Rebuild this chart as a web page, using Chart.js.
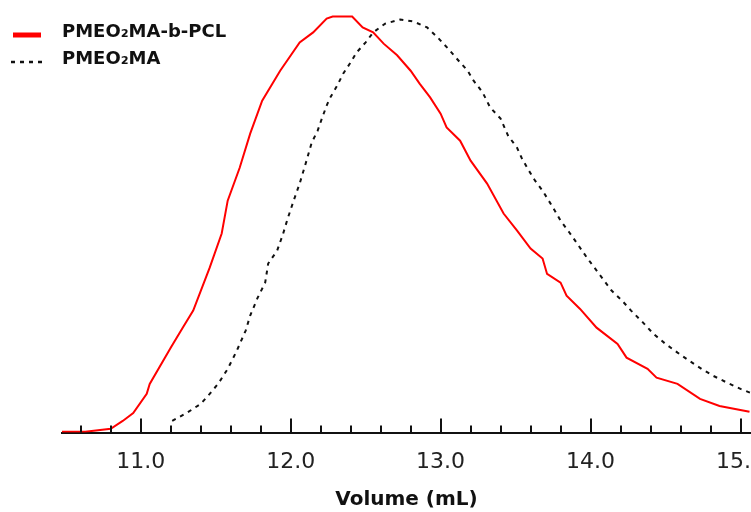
<!DOCTYPE html>
<html>
<head>
<meta charset="utf-8">
<script src="https://cdn.jsdelivr.net/npm/chart.js@4.4.1/dist/chart.umd.min.js"></script>
<style>
  body { margin: 0; background: #fff; }
  canvas { display: block; }
</style>
</head>
<body>
<canvas id="graph" width="751" height="512"></canvas>
<script>
// elution volume (mL) / normalised detector signal
const blockVol = [10.475, 10.63, 10.80, 10.88, 10.95, 11.04, 11.06, 11.20, 11.28, 11.35, 11.46, 11.54, 11.58, 11.66, 11.73, 11.81, 11.93, 12.06, 12.15, 12.24, 12.28, 12.41, 12.48, 12.55, 12.62, 12.71, 12.80, 12.86, 12.93, 13.00, 13.04, 13.13, 13.20, 13.31, 13.42, 13.51, 13.60, 13.68, 13.71, 13.80, 13.84, 13.93, 14.04, 14.18, 14.24, 14.38, 14.44, 14.58, 14.73, 14.86, 15.06];
const blockSignal = [0.002, 0.002, 0.009, 0.028, 0.047, 0.093, 0.117, 0.204, 0.252, 0.293, 0.396, 0.478, 0.557, 0.636, 0.718, 0.797, 0.869, 0.937, 0.961, 0.994, 0.999, 0.999, 0.973, 0.961, 0.934, 0.906, 0.869, 0.838, 0.805, 0.766, 0.733, 0.701, 0.653, 0.598, 0.526, 0.485, 0.442, 0.418, 0.381, 0.360, 0.329, 0.297, 0.252, 0.213, 0.180, 0.153, 0.132, 0.117, 0.081, 0.064, 0.050];

const homoVol = [11.21, 11.31, 11.40, 11.46, 11.52, 11.58, 11.64, 11.70, 11.73, 11.78, 11.83, 11.85, 11.91, 11.95, 11.98, 12.02, 12.06, 12.10, 12.14, 12.18, 12.21, 12.24, 12.26, 12.31, 12.35, 12.40, 12.44, 12.50, 12.55, 12.63, 12.73, 12.82, 12.91, 12.98, 13.05, 13.12, 13.18, 13.22, 13.28, 13.33, 13.40, 13.45, 13.51, 13.54, 13.58, 13.63, 13.68, 13.75, 13.80, 13.86, 13.92, 13.98, 14.08, 14.14, 14.21, 14.27, 14.35, 14.42, 14.50, 14.58, 14.66, 14.74, 14.82, 14.91, 15.00, 15.07];
const homoSignal = [0.028, 0.048, 0.069, 0.093, 0.119, 0.153, 0.196, 0.245, 0.281, 0.324, 0.360, 0.406, 0.437, 0.478, 0.514, 0.557, 0.598, 0.646, 0.696, 0.725, 0.756, 0.785, 0.802, 0.833, 0.862, 0.889, 0.913, 0.937, 0.961, 0.982, 0.992, 0.987, 0.973, 0.949, 0.922, 0.893, 0.869, 0.845, 0.817, 0.781, 0.754, 0.713, 0.684, 0.660, 0.634, 0.605, 0.581, 0.540, 0.509, 0.480, 0.449, 0.418, 0.370, 0.341, 0.317, 0.293, 0.264, 0.237, 0.213, 0.192, 0.172, 0.153, 0.136, 0.120, 0.105, 0.095];

const seriesNames = ['PMEO\u2082MA-b-PCL', 'PMEO\u2082MA'];
const volMin = 10.475;
const volMax = 15.07;

const toPoints = (xs, ys) => xs.map((x, i) => ({ x: x, y: ys[i] }));

// ticks drawn upward from the axis, long ones on whole mL
const tickMarks = {
    id: 'tickMarks',
    afterDraw(chart) {
        const ctx = chart.ctx;
        const xs = chart.scales.x;
        const yAxis = chart.chartArea.bottom;
        ctx.save();
        ctx.strokeStyle = '#111';
        ctx.lineWidth = 2;
        xs.ticks.forEach(t => {
            const v = t.value;
            if (Math.abs(v * 5 - Math.round(v * 5)) > 1e-6) return;
            const major = Math.abs(v - Math.round(v)) < 1e-6;
            const px = Math.round(xs.getPixelForValue(v));
            ctx.beginPath();
            ctx.moveTo(px, yAxis);
            ctx.lineTo(px, yAxis - (major ? 14 : 7));
            ctx.stroke();
        });
        ctx.restore();
    }
};

// legend sits at the top left corner, outside the plot frame
const cornerLegend = {
    id: 'cornerLegend',
    afterDraw(chart) {
        const ctx = chart.ctx;
        ctx.save();
        ctx.font = 'bold 18px "DejaVu Sans"';
        ctx.textBaseline = 'middle';
        ctx.fillStyle = '#111';
        const rows = [
            { y: 35, x0: 13, x1: 41, w: 5 },
            { y: 62, x0: 11, x1: 43, w: 2.5 }
        ];
        chart.data.datasets.forEach((ds, i) => {
            const r = rows[i];
            ctx.strokeStyle = ds.borderColor;
            ctx.lineWidth = r.w;
            ctx.setLineDash(ds.borderDash || []);
            ctx.beginPath();
            ctx.moveTo(r.x0, r.y);
            ctx.lineTo(r.x1, r.y);
            ctx.stroke();
            ctx.setLineDash([]);
            ctx.fillText(ds.label, 62, r.y - 3);
        });
        ctx.restore();
    }
};

new Chart(document.getElementById('graph'), {
    type: 'line',
    data: {
        datasets: [
            {
                label: seriesNames[0],
                data: toPoints(blockVol, blockSignal),
                borderColor: '#ff0000',
                borderWidth: 2,
                pointRadius: 0,
                tension: 0
            },
            {
                label: seriesNames[1],
                data: toPoints(homoVol, homoSignal),
                borderColor: '#111111',
                borderWidth: 2,
                borderDash: [4, 5],
                pointRadius: 0,
                tension: 0
            }
        ]
    },
    options: {
        responsive: false,
        animation: false,
        layout: { padding: { left: 62, right: 0, top: 12, bottom: 0 } },
        plugins: {
            legend: { display: false },
            tooltip: { enabled: false }
        },
        scales: {
            x: {
                type: 'linear',
                min: volMin,
                max: volMax,
                grid: { display: false, drawTicks: false, tickLength: 0 },
                border: { display: true, color: '#111', width: 2 },
                ticks: {
                    stepSize: 0.2,
                    includeBounds: false,
                    autoSkip: false,
                    maxRotation: 0,
                    padding: 16,
                    color: '#222',
                    font: { family: '"DejaVu Sans"', size: 22 },
                    callback: (v) => Math.abs(v - Math.round(v)) < 1e-6 ? Number(v).toFixed(1) : ''
                },
                title: {
                    display: true,
                    text: 'Volume (mL)',
                    color: '#111',
                    font: { family: '"DejaVu Sans"', size: 20, weight: 'bold' },
                    padding: { top: -3, bottom: 0 }
                },
                afterFit: (scale) => {
                    // the cut-off "15" label must not squeeze the plot
                    scale.paddingLeft = 0;
                    scale.paddingRight = 0;
                }
            },
            y: {
                display: false,
                min: 0,
                max: 1.01
            }
        }
    },
    plugins: [tickMarks, cornerLegend]
});
</script>
</body>
</html>
